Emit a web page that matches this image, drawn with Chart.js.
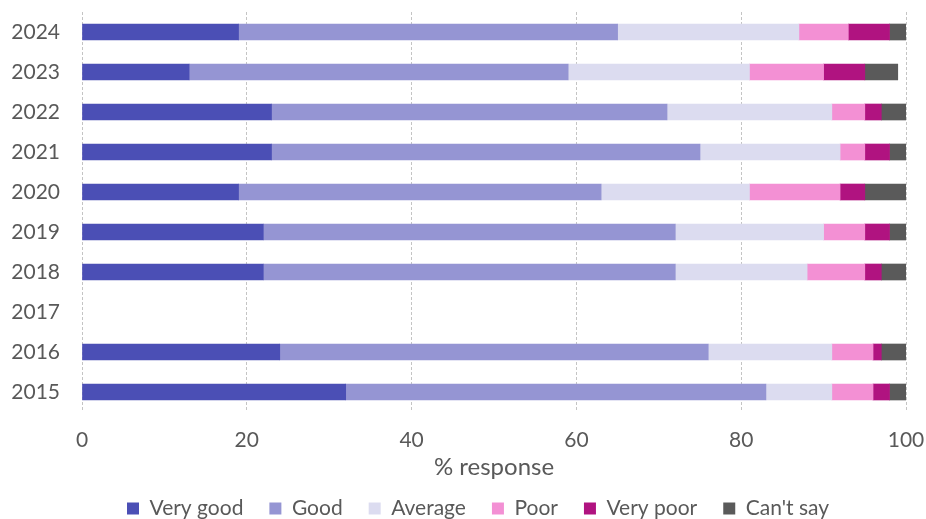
<!DOCTYPE html>
<html>
<head>
<meta charset="utf-8">
<script src="https://cdn.jsdelivr.net/npm/chart.js@4"></script>
<style>
    html, body { margin: 0; padding: 0; background: #fff; }
    #wrap { width: 926px; height: 519px; }
</style>
</head>
<body>
<div id="wrap"><canvas id="chart"></canvas></div>
<script>
const years = ["2024", "2023", "2022", "2021", "2020", "2019", "2018", "2017", "2016", "2015"];

const veryGood = [19, 13, 23, 23, 19, 22, 22, null, 24, 32];
const good     = [46, 46, 48, 52, 44, 50, 50, null, 52, 51];
const average  = [22, 22, 20, 17, 18, 18, 16, null, 15, 8];
const poor     = [6, 9, 4, 3, 11, 5, 7, null, 5, 5];
const veryPoor = [5, 5, 2, 3, 3, 3, 2, null, 1, 2];
const cantSay  = [2, 4, 3, 2, 5, 2, 3, null, 3, 2];

const xTicks = [0, 20, 40, 60, 80, 100];

const seriesNames = ["Very good", "Good", "Average", "Poor", "Very poor", "Can't say"];
const seriesValues = [veryGood, good, average, poor, veryPoor, cantSay];
const seriesColors = ["#4b4fb5", "#9595d3", "#dcdcf0", "#f390d4", "#b01380", "#5a5a5a"];

const textColor = "#595959";
const fontFamily = "Lato, 'Open Sans', sans-serif";

// keep the legend box short so the plot keeps its height, then draw it lower
const legendFit = {
    id: "legendFit",
    beforeLayout(chart) {
        const lg = chart.legend;
        if (lg && !lg._fitPatched) {
            const fit = lg.fit.bind(lg);
            lg.fit = function () {
                fit();
                this.height = 37;
            };
            lg._fitPatched = true;
        }
    },
    afterLayout(chart) {
        const lg = chart.legend;
        lg.top = 472;
        // centre it under the plot area rather than the whole canvas
        lg.left += 25;
        lg.right += 25;
    },
};

const ctx = document.getElementById("chart").getContext("2d");

new Chart(ctx, {
    type: "bar",
    data: {
        labels: years,
        datasets: seriesNames.map((name, i) => ({
            label: name,
            data: seriesValues[i],
            backgroundColor: seriesColors[i],
            borderWidth: 0,
            barThickness: 16,
        })),
    },
    options: {
        responsive: true,
        maintainAspectRatio: false,
        animation: false,
        indexAxis: "y",
        layout: {
            padding: { left: 0, right: 20, top: 12, bottom: 0 },
        },
        plugins: {
            legend: {
                position: "bottom",
                labels: {
                    color: textColor,
                    font: { family: fontFamily, size: 21 },
                    boxWidth: 12,
                    boxHeight: 12,
                    padding: 26,
                },
            },
            tooltip: { enabled: false },
        },
        scales: {
            x: {
                stacked: true,
                min: 0,
                max: 100,
                afterBuildTicks: (scale) => {
                    scale.ticks = xTicks.map((v) => ({ value: v }));
                },
                afterFit: (scale) => {
                    scale.height = 70;
                    scale.paddingLeft = 0;
                    scale.paddingRight = 0;
                },
                ticks: {
                    color: textColor,
                    font: { family: fontFamily, size: 21 },
                    padding: 16,
                },
                grid: {
                    color: "#c4c4c4",
                    lineWidth: 1,
                    drawTicks: false,
                },
                border: { display: false, dash: [3, 2] },
                title: {
                    display: true,
                    text: "% response",
                    color: textColor,
                    font: { family: fontFamily, size: 24 },
                    padding: { top: 0, bottom: 0 },
                },
            },
            y: {
                stacked: true,
                afterFit: (scale) => {
                    scale.width = 82;
                    scale.paddingTop = 0;
                    scale.paddingBottom = 0;
                },
                ticks: {
                    color: textColor,
                    font: { family: fontFamily, size: 21 },
                    padding: 14,
                },
                grid: { display: false },
                border: { display: false },
            },
        },
    },
    plugins: [legendFit],
});
</script>
</body>
</html>
